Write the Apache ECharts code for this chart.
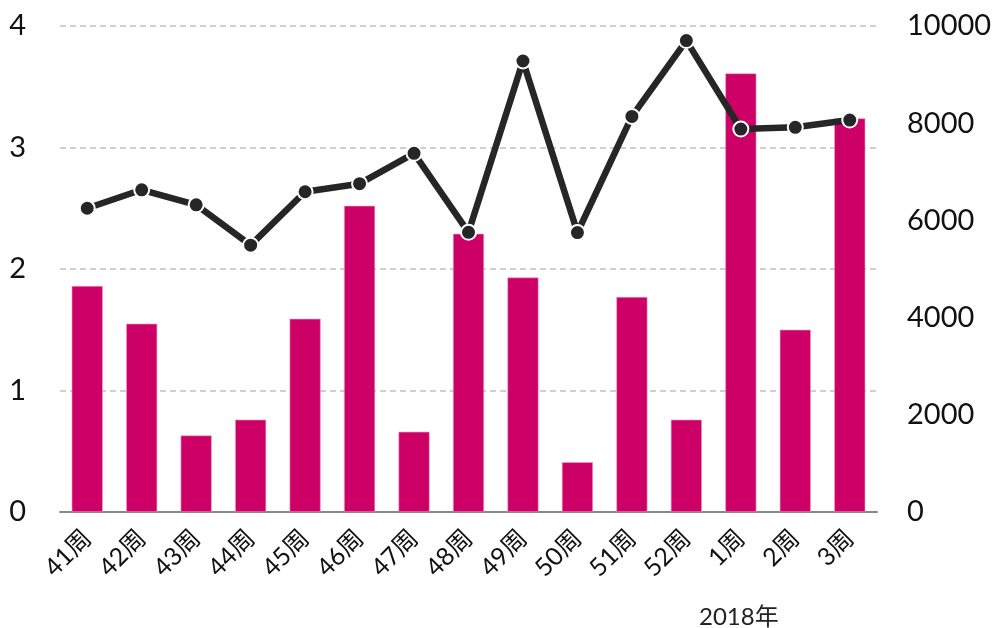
<!DOCTYPE html>
<html>
<head>
<meta charset="utf-8">
<script src="https://cdn.jsdelivr.net/npm/echarts@6/dist/echarts.min.js"></script>
<style>
html,body{margin:0;padding:0;background:#fff;}
#chart{width:997px;height:628px;}
</style>
</head>
<body>
<div id="chart"></div>
<script>
const categories = ['41周','42周','43周','44周','45周','46周','47周','48周','49周','50周','51周','52周','1周','2周','3周'];
const barValues = [1.86, 1.55, 0.63, 0.76, 1.59, 2.52, 0.66, 2.29, 1.93, 0.41, 1.77, 0.76, 3.61, 1.50, 3.24];
const lineValues = [6250, 6630, 6320, 5490, 6590, 6755, 7380, 5755, 9280, 5750, 8140, 9700, 7880, 7915, 8065];
const leftTicks = { min: 0, max: 4, interval: 1 };
const rightTicks = { min: 0, max: 10000, interval: 2000 };
const yearLabel = '2018年';

const FONT = "Lato, 'Noto Sans CJK SC', sans-serif";
const chart = echarts.init(document.getElementById('chart'));
chart.setOption({
  animation: false,
  backgroundColor: '#ffffff',
  textStyle: { fontFamily: FONT },
  title: {
    text: yearLabel,
    left: 694, top: 600,
    textStyle: { fontFamily: FONT, fontSize: 24, fontWeight: 'normal', color: '#222' }
  },
  grid: { left: 60, right: 120, top: 26, bottom: 116, containLabel: false },
  xAxis: {
    type: 'category',
    data: categories,
    axisLine: { lineStyle: { color: '#888', width: 2 } },
    axisTick: { show: false },
    axisLabel: { rotate: 45, fontSize: 25, color: '#111', margin: 22, fontFamily: FONT, interval: 0 }
  },
  yAxis: [
    {
      type: 'value', min: leftTicks.min, max: leftTicks.max, interval: leftTicks.interval,
      position: 'left',
      axisLine: { show: false }, axisTick: { show: false },
      axisLabel: { fontSize: 29, color: '#111', margin: 34, fontFamily: FONT },
      splitLine: { lineStyle: { color: '#c0c0c0', type: [6, 4], width: 1.5 } }
    },
    {
      type: 'value', min: rightTicks.min, max: rightTicks.max, interval: rightTicks.interval,
      position: 'right',
      axisLine: { show: false }, axisTick: { show: false },
      axisLabel: { fontSize: 29, color: '#111', margin: 30, fontFamily: FONT, formatter: v => String(v) },
      splitLine: { show: false }
    }
  ],
  series: [
    {
      type: 'bar', yAxisIndex: 0, data: barValues, barWidth: '57%',
      itemStyle: { color: '#CC0066', borderColor: '#f0a0c8', borderWidth: 0.6 }
    },
    {
      type: 'line', yAxisIndex: 1, data: lineValues,
      symbol: 'circle', symbolSize: 15,
      lineStyle: { color: '#262626', width: 6.5 },
      itemStyle: { color: '#262626', borderColor: '#ffffff', borderWidth: 2 },
      z: 5
    }
  ]
});
</script>
</body>
</html>
